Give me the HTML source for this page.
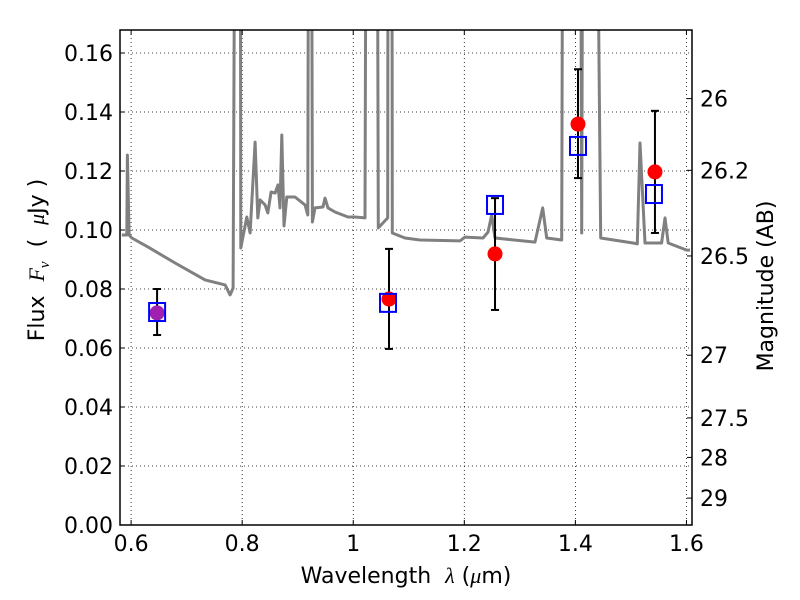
<!DOCTYPE html>
<html><head><meta charset="utf-8">
<style>
body{margin:0;background:#fff;}
svg{display:block;font-family:"DejaVu Sans","Liberation Sans",sans-serif;}
text{white-space:pre;}
</style></head>
<body>
<svg id="chart" width="800" height="600" xmlns="http://www.w3.org/2000/svg"></svg>
<script>
const specLam=[0.5833,0.5923,0.5933,0.5964,0.6013,0.6306,0.6792,0.7332,0.7692,0.7782,0.7836,0.7885,0.7962,0.7975,0.8083,0.8142,0.8232,0.8281,0.8322,0.8412,0.8461,0.852,0.8592,0.8646,0.8682,0.8713,0.8754,0.8803,0.8952,0.9132,0.9181,0.9204,0.924,0.9264,0.9312,0.9456,0.9492,0.9546,0.9672,0.9906,1.0032,1.0212,1.0243,1.0423,1.0451,1.0621,1.0631,1.0692,1.0703,1.0932,1.1202,1.1922,1.2012,1.2337,1.2427,1.2493,1.2553,1.3273,1.3411,1.3483,1.3753,1.3782,1.4083,1.4113,1.4142,1.4203,1.4353,1.4456,1.5037,1.5115,1.5163,1.5253,1.5553,1.5613,1.5672,1.6004,1.6064];
const specFlux=[0.0983,0.0983,0.1254,0.0983,0.0973,0.0942,0.0888,0.0831,0.0814,0.078,0.0803,0.3,0.3,0.0939,0.1044,0.099,0.1298,0.1041,0.1102,0.1085,0.1058,0.1129,0.1125,0.1153,0.1075,0.1322,0.1014,0.1112,0.1112,0.1085,0.1051,0.3,0.3,0.1027,0.1075,0.1078,0.1108,0.1075,0.1061,0.1044,0.1044,0.1041,0.3,0.3,0.1007,0.1041,0.3,0.3,0.099,0.0973,0.0966,0.0963,0.0976,0.0973,0.0993,0.1051,0.0973,0.0959,0.1075,0.0973,0.0966,0.3,0.3,0.099,0.3,0.3,0.3,0.0973,0.0956,0.0953,0.1295,0.0956,0.0956,0.1041,0.0956,0.0932,0.0932];
const obsLam=[0.6468,1.0644,1.2553,1.4047,1.5433];
const obsFlux=[0.0719,0.0766,0.0919,0.1359,0.1197];
const errLow=[0.0644,0.0597,0.0729,0.1176,0.0990];
const errHigh=[0.0800,0.0936,0.1108,0.1545,0.1404];
const modLam=[0.6468,1.0626,1.2553,1.4047,1.5415];
const modFlux=[0.0722,0.0753,0.1085,0.1285,0.1122];
const xTicks=[0.6,0.8,1.0,1.2,1.4,1.6];
const xTickLabels=["0.6","0.8","1","1.2","1.4","1.6"];
const yTicks=[0,0.02,0.04,0.06,0.08,0.10,0.12,0.14,0.16];
const yTickLabels=["0.00","0.02","0.04","0.06","0.08","0.10","0.12","0.14","0.16"];
const magTicks=[26,26.2,26.5,27,27.5,28,29];
const magTickLabels=["26","26.2","26.5","27","27.5","28","29"];

const L=120,R=692,T=30,B=525,X0=0.58,X1=1.61,Y0=0,Y1=0.1678;
const sx=v=>L+(v-X0)/(X1-X0)*(R-L);
const sy=v=>B-(v-Y0)/(Y1-Y0)*(B-T);
const magToFlux=m=>Math.pow(10,(23.9-m)/2.5);
const svg=document.getElementById('chart');
const NS='http://www.w3.org/2000/svg';
function mk(tag,attrs,parent){const e=document.createElementNS(NS,tag);for(const k in attrs)e.setAttribute(k,attrs[k]);(parent||svg).appendChild(e);return e;}

const defs=mk('defs',{});
const cp=mk('clipPath',{id:'clip'},defs);
mk('rect',{x:L,y:T,width:R-L,height:B-T},cp);

const grid=mk('g',{});


xTicks.forEach(t=>{mk('line',{x1:sx(t),x2:sx(t),y1:T,y2:B,stroke:'#000','stroke-width':0.8,'stroke-dasharray':'1,3'},grid);});
yTicks.forEach(t=>{mk('line',{x1:L,x2:R,y1:sy(t),y2:sy(t),stroke:'#000','stroke-width':0.8,'stroke-dasharray':'1,3'},grid);});

const plot=mk('g',{'clip-path':'url(#clip)'});
let d='';
specLam.forEach((l,i)=>{d+=(i?'L':'M')+sx(l).toFixed(1)+','+sy(specFlux[i]).toFixed(1);});
const sp=mk('path',{d:d,fill:'none',stroke:'#808080','stroke-width':3,'stroke-linejoin':'round'},plot);



obsLam.forEach((l,i)=>{
  const g=mk('g',{},plot);
  
  
  const x=sx(l);
  mk('line',{x1:x,x2:x,y1:sy(errLow[i]),y2:sy(errHigh[i]),stroke:'#000','stroke-width':2},g);
  mk('line',{x1:x-4,x2:x+4,y1:sy(errLow[i]),y2:sy(errLow[i]),stroke:'#000','stroke-width':2},g);
  mk('line',{x1:x-4,x2:x+4,y1:sy(errHigh[i]),y2:sy(errHigh[i]),stroke:'#000','stroke-width':2},g);
});
obsLam.forEach((l,i)=>{
  const c=mk('circle',{cx:sx(l),cy:sy(obsFlux[i]),r:7.5,fill:i===0?'#a020b0':'#ff0000'},plot);
  
  
});
modLam.forEach((l,i)=>{
  const s=mk('rect',{x:sx(l)-8,y:sy(modFlux[i])-9,width:16,height:18,fill:'none',stroke:'#0000ff','stroke-width':2},plot);
  
  
});

const fr=mk('rect',{x:L,y:T,width:R-L,height:B-T,fill:'none',stroke:'#000','stroke-width':1.5});



xTicks.forEach((t,i)=>{
  const x=sx(t);
  mk('line',{x1:x,x2:x,y1:B,y2:B-5,stroke:'#000'});
  mk('line',{x1:x,x2:x,y1:T,y2:T+5,stroke:'#000'});
  const tx=mk('text',{x:x,y:B+26,'font-size':22,'text-anchor':'middle'});
  tx.textContent=xTickLabels[i];
  
  
});
yTicks.forEach((t,i)=>{
  const y=sy(t);
  mk('line',{x1:L,x2:L+5,y1:y,y2:y,stroke:'#000'});
  const tx=mk('text',{x:L-7,y:y+8,'font-size':22,'text-anchor':'end'});
  tx.textContent=yTickLabels[i];
  
  
});
magTicks.forEach((m,i)=>{
  const y=sy(magToFlux(m));
  mk('line',{x1:R,x2:R-5,y1:y,y2:y,stroke:'#000'});
  const tx=mk('text',{x:R+8,y:y+8,'font-size':22,'text-anchor':'start'});
  tx.textContent=magTickLabels[i];
  
  
});

const xt=mk('text',{x:406,y:583,'font-size':22,'text-anchor':'middle'});
xt.innerHTML='Wavelength  <tspan font-family="Liberation Serif, serif" font-style="italic">λ</tspan> (<tspan font-family="Liberation Serif, serif" font-style="italic">μ</tspan>m)';


const yt=mk('text',{x:0,y:0,'font-size':22,'text-anchor':'middle',transform:'translate(44,260) rotate(-90)'});
yt.innerHTML='Flux  <tspan font-family="Liberation Serif, serif" font-style="italic">F</tspan><tspan font-family="Liberation Serif, serif" font-style="italic" font-size="15" dy="5">ν</tspan><tspan dy="-5">  (  </tspan><tspan font-family="Liberation Serif, serif" font-style="italic">μ</tspan>Jy )';


const rt=mk('text',{x:0,y:0,'font-size':22,'text-anchor':'middle',transform:'translate(773,286) rotate(-90)'});
rt.textContent='Magnitude (AB)';


</script>
</body></html>
